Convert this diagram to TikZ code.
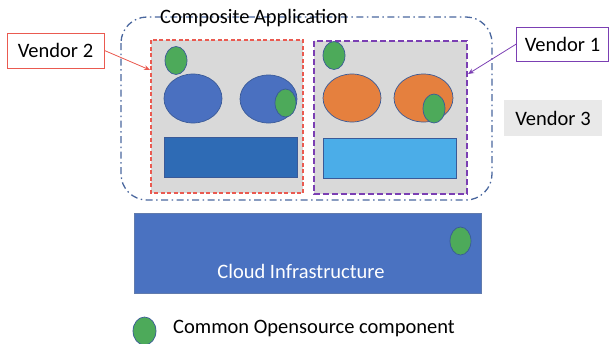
\documentclass[tikz,border=0pt]{standalone}
\usepackage{fontspec}
\setmainfont{Carlito}
\usetikzlibrary{arrows.meta,shapes.geometric}
\definecolor{frameblue}{HTML}{4A679E}
\definecolor{v2red}{HTML}{EA5A50}
\definecolor{v1purple}{HTML}{7B3FB3}
\definecolor{panelgray}{HTML}{D9D9D9}
\definecolor{compblue}{HTML}{4A70C0}
\definecolor{compedge}{HTML}{3A5A98}
\definecolor{comporange}{HTML}{E5803E}
\definecolor{ossgreen}{HTML}{4DAA5A}
\definecolor{bardark}{HTML}{2E6BB5}
\definecolor{barlight}{HTML}{4BADE8}
\definecolor{cloudblue}{HTML}{4A72C1}
\definecolor{v3gray}{HTML}{E9E9E9}
\tikzset{
  txt/.style={font=\fontsize{20.5}{24}\selectfont, inner sep=0pt},
  panel/.style={fill=panelgray, line width=1.5pt, dash pattern=on 4pt off 2.5pt},
  comp/.style={ellipse, draw=compedge, line width=0.7pt, inner sep=0pt},
  oss/.style={ellipse, draw=compedge, fill=ossgreen, line width=0.7pt, inner sep=0pt,
    minimum width=22pt, minimum height=28pt},
  callout/.style={txt, draw, fill=white, line width=1pt, inner xsep=8pt},
}
\begin{document}
\begin{tikzpicture}[x=1pt,y=-1pt]
\useasboundingbox (0,0) rectangle (610,343);

% composite application frame
\draw[frameblue, line width=1.3pt, dash pattern=on 7pt off 3.5pt on 1.5pt off 3.5pt,
  rounded corners=26pt] (121,17) rectangle (492,200);
\node[txt, anchor=west] (title) at (160,18.5) {Composite Application};

% vendor 2 panel
\draw[panel, draw=v2red] (151,40) rectangle (303,193);
\node[oss] (g2a) at (176,60.5) {};
\node[comp, fill=compblue, minimum width=58pt, minimum height=49pt] (b2l) at (193,98.5) {};
\node[comp, fill=compblue, minimum width=57pt, minimum height=48pt] (b2r) at (268.5,99) {};
\node[oss, minimum width=21pt] (g2b) at (285.5,103) {};
\node[draw=compedge, fill=bardark, line width=0.6pt, minimum width=133pt, minimum height=40pt, inner sep=0pt] (bar2) at (230.5,157) {};
\coordinate (v2in) at (150,70);

% vendor 1 panel
\draw[panel, draw=v1purple, dash pattern=on 6pt off 3pt] (314,41) rectangle (467,194);
\node[oss] (g1a) at (334,55.5) {};
\node[comp, fill=comporange, minimum width=58pt, minimum height=48pt] (o1l) at (352,98) {};
\node[comp, fill=comporange, minimum width=59pt, minimum height=48pt] (o1r) at (423.5,98) {};
\node[oss, minimum height=29pt] (g1b) at (434,108.5) {};
\node[draw=compedge, fill=barlight, line width=0.6pt, minimum width=133pt, minimum height=40pt, inner sep=0pt] (bar1) at (389.5,158) {};
\coordinate (v1in) at (468,74);

% vendor callouts
\node[callout, draw=v2red, minimum width=97pt, minimum height=35pt] (v2) at (55.5,50.5) {Vendor 2};
\node[callout, draw=v1purple, minimum width=89pt, minimum height=34pt] (v1) at (562.5,44) {Vendor 1};
\node[txt, fill=v3gray, minimum width=98pt, minimum height=36pt] (v3) at (553,118) {Vendor 3};
\draw[v2red, line width=0.8pt, -{Stealth[length=6pt,width=5pt]}] (v2.east) -- (v2in);
\draw[v1purple, line width=0.8pt, -{Stealth[length=6pt,width=5pt]}] (v1.west) -- (v1in);

% cloud infrastructure
\node[draw=compedge!80, fill=cloudblue, line width=0.6pt, minimum width=347pt, minimum height=80pt, inner sep=0pt] (cloud) at (307.5,253.5) {};
\node[txt, text=white] (cloudlbl) at (301,271) {Cloud Infrastructure};
\node[oss, minimum width=21pt] (gc) at (460.5,241) {};

% legend
\node[oss, minimum width=23pt] (gl) at (144.5,331) {};
\node[txt, anchor=west] (legend) at (173,328) {Common Opensource component};
\end{tikzpicture}
\end{document}
